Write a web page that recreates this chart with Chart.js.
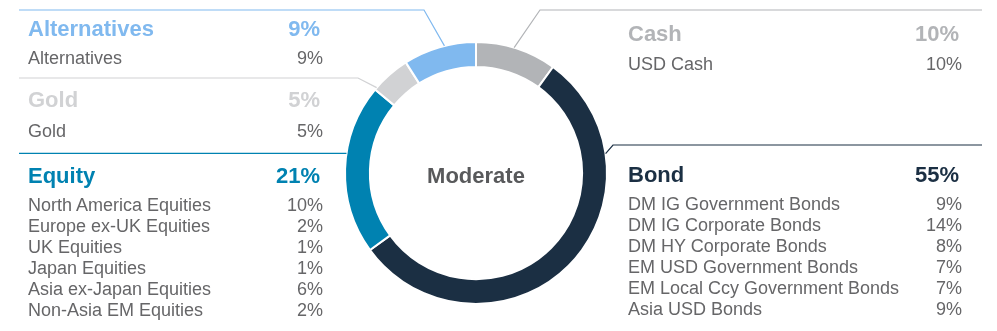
<!DOCTYPE html>
<html>
<head>
<meta charset="utf-8">
<script src="https://cdn.jsdelivr.net/npm/chart.js@4.4.0/dist/chart.umd.min.js"></script>
<style>
  body { margin: 0; background: #fff; font-family: "Liberation Sans", Arial, sans-serif; }
  #wrap { position: relative; width: 997px; height: 331px; overflow: hidden; }
  #chart { position: absolute; left: 0; top: 0; }
  .head { position: absolute; display: flex; justify-content: space-between; font-size: 22px; font-weight: bold; line-height: 26px; height: 26px; }
  .rows { position: absolute; }
  .row { display: flex; justify-content: space-between; font-size: 18px; line-height: 21px; height: 21px; color: #666668; }
  #center { position: absolute; left: 376px; width: 200px; top: 163px; text-align: center; font-size: 22px; font-weight: bold; color: #58595b; line-height: 26px; }
</style>
</head>
<body>
<div id="wrap">
  <canvas id="chart" width="997" height="331"></canvas>
  <div id="center">Moderate</div>
</div>
<script>
// allocation groups, clockwise from the top
const groupNames = ['Cash', 'Bond', 'Equity', 'Gold', 'Alternatives'];
const groupWeights = [10, 55, 21, 5, 9];
const groupColors = ['#b2b4b7', '#1b2f43', '#0082b1', '#d1d2d4', '#80b9ef'];

const cashLabels = ['USD Cash'];
const cashWeights = [10];
const bondLabels = ['DM IG Government Bonds', 'DM IG Corporate Bonds', 'DM HY Corporate Bonds',
  'EM USD Government Bonds', 'EM Local Ccy Government Bonds', 'Asia USD Bonds'];
const bondWeights = [9, 14, 8, 7, 7, 9];
const equityLabels = ['North America Equities', 'Europe ex-UK Equities', 'UK Equities',
  'Japan Equities', 'Asia ex-Japan Equities', 'Non-Asia EM Equities'];
const equityWeights = [10, 2, 1, 1, 6, 2];
const goldLabels = ['Gold'];
const goldWeights = [5];
const altLabels = ['Alternatives'];
const altWeights = [9];

// where each text block and its leader line sit
const panels = [
  { index: 0, labels: cashLabels, values: cashWeights, left: 628, width: 334, headY: 34, rowY: 64.5, t: 0.47, elbow: [540, 10], endX: 982 },
  { index: 1, labels: bondLabels, values: bondWeights, left: 628, width: 334, headY: 174.5, rowY: 204, t: 0.23, elbow: [613, 145], endX: 982 },
  { index: 2, labels: equityLabels, values: equityWeights, left: 28, width: 295, headY: 176, rowY: 205.5, t: 0.59, elbow: null, endX: 19 },
  { index: 3, labels: goldLabels, values: goldWeights, left: 28, width: 295, headY: 100, rowY: 131, t: 0.06, elbow: [358, 78], endX: 19 },
  { index: 4, labels: altLabels, values: altWeights, left: 28, width: 295, headY: 28.5, rowY: 58.5, t: 0.57, elbow: [424, 10], endX: 19 }
];

const wrap = document.getElementById('wrap');
panels.forEach(p => {
  const head = document.createElement('div');
  head.className = 'head';
  head.style.left = p.left + 'px';
  head.style.width = (p.width - 3) + 'px';
  head.style.top = (p.headY - 13) + 'px';
  head.style.color = groupColors[p.index];
  head.innerHTML = '<span>' + groupNames[p.index] + '</span><span>' + groupWeights[p.index] + '%</span>';
  wrap.appendChild(head);

  const rows = document.createElement('div');
  rows.className = 'rows';
  rows.style.left = p.left + 'px';
  rows.style.width = p.width + 'px';
  rows.style.top = (p.rowY - 10.5) + 'px';
  p.labels.forEach((l, i) => {
    const row = document.createElement('div');
    row.className = 'row';
    row.innerHTML = '<span>' + l + '</span><span>' + p.values[i] + '%</span>';
    rows.appendChild(row);
  });
  wrap.appendChild(rows);
});

const leaderLines = {
  id: 'leaderLines',
  afterDatasetsDraw(chart) {
    const ctx = chart.ctx;
    const arcs = chart.getDatasetMeta(0).data;
    panels.forEach(p => {
      const arc = arcs[p.index].getProps(['x', 'y', 'startAngle', 'endAngle', 'outerRadius'], true);
      const a = arc.startAngle + p.t * (arc.endAngle - arc.startAngle);
      const x0 = arc.x + arc.outerRadius * Math.cos(a);
      const y0 = arc.y + arc.outerRadius * Math.sin(a);
      ctx.save();
      ctx.strokeStyle = groupColors[p.index];
      ctx.lineWidth = 1.2;
      ctx.beginPath();
      ctx.moveTo(x0, y0);
      if (p.elbow) {
        ctx.lineTo(p.elbow[0], p.elbow[1]);
        ctx.lineTo(p.endX, p.elbow[1]);
      } else {
        ctx.lineTo(p.endX, y0);
      }
      ctx.stroke();
      ctx.restore();
    });
  }
};

new Chart(document.getElementById('chart'), {
  type: 'doughnut',
  data: {
    labels: groupNames,
    datasets: [{
      data: groupWeights,
      backgroundColor: groupColors,
      borderColor: '#ffffff',
      borderWidth: 2
    }]
  },
  options: {
    responsive: false,
    animation: false,
    cutout: '81%',
    events: [],
    layout: { padding: { left: 344, right: 389, top: 41, bottom: 26 } },
    plugins: {
      legend: { display: false },
      tooltip: { enabled: false }
    }
  },
  plugins: [leaderLines]
});
</script>
</body>
</html>
